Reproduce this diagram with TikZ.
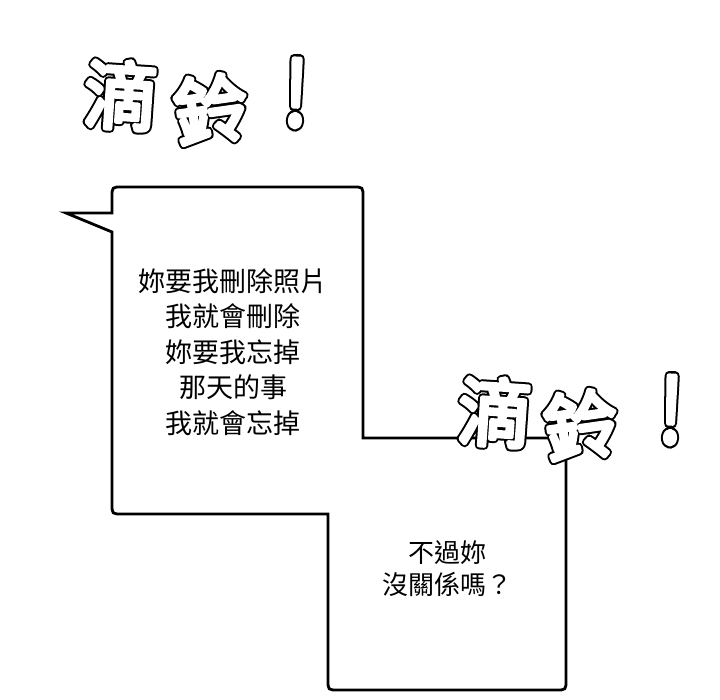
\documentclass[tikz,border=0pt]{standalone}
\usepackage{fontspec}
\newfontfamily\cjk{Noto Sans CJK TC}
\newcommand\fxfont{\cjk\fontsize{74}{74}\selectfont}
\newcommand\fxstroke[1]{\special{pdf:literal direct 1 Tr 8.4 w 1 j 1 J}#1\special{pdf:literal direct 0 Tr}}
\newcommand\fxfill[1]{\special{pdf:literal direct 2 Tr 4.4 w 1 j 1 J}#1\special{pdf:literal direct 0 Tr}}
\tikzset{
  bubble/.style={line width=2.8pt, line join=miter, draw=black, fill=white},
  speech/.style={font=\cjk\fontsize{27}{35.5}\selectfont, align=center, inner sep=0pt, text=black},
  fxout/.style={inner sep=0pt, text=black, font=\fxfont},
  fxin/.style={inner sep=0pt, text=white, font=\fxfont},
}
% name, position, rotation, yscale, character
\newcommand\fxchar[5]{%
  \node[fxout, rotate=#3] (#1o) at (#2) {\scalebox{1}[#4]{\fxstroke{#5}}};
  \node[fxin, rotate=#3] (#1) at (#2) {\scalebox{1}[#4]{\fxfill{#5}}};
}
\begin{document}
\begin{tikzpicture}[x=1pt, y=-1pt]
\useasboundingbox (0,0) rectangle (720,700);
\fill[white] (0,0) rectangle (720,700);

% speech bubble
\draw[bubble] (66,213) -- (112,213) -- (112,197) .. controls (112,187) .. (122,187)
  -- (353,187) .. controls (363,187) .. (363,197)
  -- (363,438) -- (556,438) .. controls (566,438) .. (566,448)
  -- (566,680) .. controls (566,690) .. (556,690)
  -- (338,690) .. controls (328,690) .. (328,680)
  -- (328,514) -- (122,514) .. controls (112,514) .. (112,504)
  -- (112,232) -- cycle;

\node[speech] (upper) at (233,352) {妳要我刪除照片\\我就會刪除\\妳要我忘掉\\那天的事\\我就會忘掉};
\node[speech, font=\cjk\fontsize{26}{32}\selectfont] (lower) at (447,569) {不過妳\\沒關係嗎？};

% sound effect 1
\fxchar{da}{121,95}{-4}{1}{滴}
\fxchar{la}{211,109}{8}{1}{鈴}
\fxchar{ea}{296,93}{-2}{1.2}{!}
% sound effect 2
\fxchar{db}{495,412}{-4}{1}{滴}
\fxchar{lb}{581,425}{8}{1}{鈴}
\fxchar{eb}{671,410}{-2}{1.2}{!}
\end{tikzpicture}
\end{document}
